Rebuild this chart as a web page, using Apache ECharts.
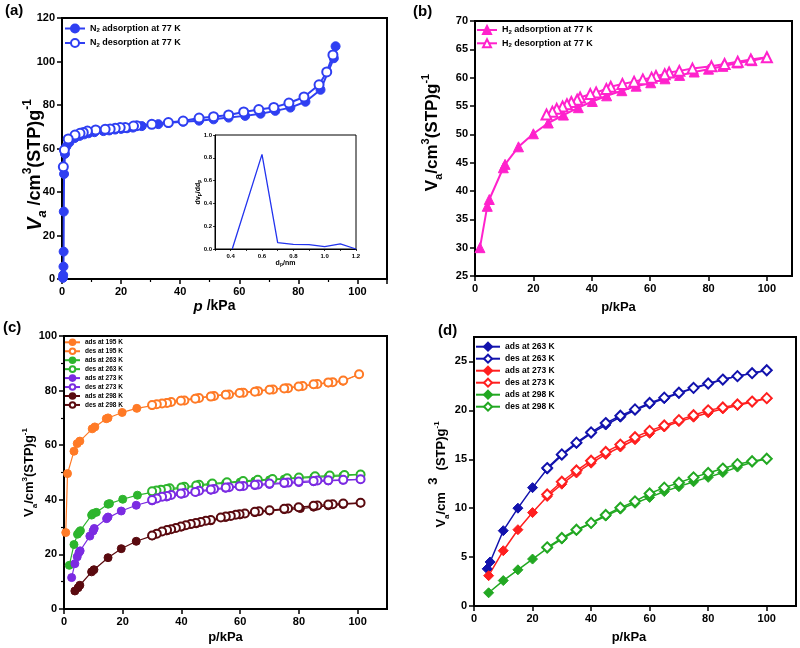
<!DOCTYPE html>
<html><head><meta charset="utf-8">
<script src="https://cdn.jsdelivr.net/npm/echarts@6/dist/echarts.min.js"></script>
<style>html,body{margin:0;padding:0;background:#fff}#c{width:800px;height:648px}</style>
</head><body><div id="c"></div>
<script>
// ---------- Panel (a): N2 at 77 K ----------
const aAdsP = [0.3,0.4,0.5,0.55,0.6,0.7,1.0,1.5,2.5,4.3,6,7.5,9,11,14,16,18,20,22,24,27,32.6,36,41,46.4,51.3,56.4,62,67.2,72.2,77.3,82.4,87.5,92,92.6];
const aAdsV = [0.5,1.8,5.7,12.6,31,48.3,57.5,61,62.8,64.8,65.8,66.5,67,67.5,68,68.3,68.7,69,69.3,69.6,70.3,71.2,71.8,72.3,72.8,73.4,74.2,75,76,77.3,78.8,81.5,87,101.5,107];
const aDesP = [91.7,89.6,87,81.9,76.8,71.7,66.6,61.5,56.4,51.3,46.4,41,36,30.4,25.3,24.2,21.4,19.7,18,16.3,14.6,11.4,8.6,7.2,6.1,4.4,2.1,0.8,0.45];
const aDesV = [103,95.2,89.3,83.7,80.9,78.9,77.9,76.8,75.4,74.6,74,72.6,71.9,71.1,70.5,70.3,69.7,69.6,69.3,69,68.8,68.5,68,67.4,67,66.2,64.4,59.3,51.6];
// inset: pore size distribution
const insetD = [0.41,0.6,0.7,0.8,0.9,1.0,1.1,1.2];
const insetV = [0,0.83,0.056,0.041,0.038,0.02,0.044,0];

// ---------- Panel (b): H2 at 77 K ----------
const bAdsP = [1.7,4.2,4.9,9.7,10.3,14.9,20,25.1,30.3,35.4,40.2,45.1,50.3,55.2,60.2,65.1,70.1,75.1,80,84.9,89.9,94.9,100];
const bAdsV = [30.0,37.3,38.5,44.1,44.7,47.8,50.1,52.0,53.4,54.7,55.8,56.8,57.7,58.5,59.1,59.8,60.4,61.0,61.5,62.0,62.6,63.0,63.6];
const bDesP = [100,94.5,90,85.5,81,74.5,70,66.5,65,62,60.5,57.5,54.5,50.5,46.5,45,41.5,39.5,36,35,33,31.5,30,28,26.5,24.5];
const bDesV = [63.6,63.2,62.8,62.4,62.0,61.6,61.2,60.9,60.6,60.3,60.0,59.7,59.3,58.9,58.4,58.0,57.4,57.1,56.5,56.1,55.7,55.3,54.9,54.5,54.0,53.5];

// ---------- Panel (c) ----------
const cAds195P = [0.6,1.2,3.4,4.5,5.4,9.6,10.5,14.4,15,19.8,24.8,30,35,40,45,50,55,60.5,65.5,70.5,75.5,80.5,85,90,95,100.5];
const cAds195V = [28,49.6,57.8,60.6,61.5,66,66.7,69.7,70,72,73.5,74.5,75.6,76.5,77.3,78,78.6,79.4,79.9,80.5,81,81.6,82.2,82.8,83.4,86];
const cDes195P = [100.5,95.1,91.5,90,86.3,85,81.3,79.9,76.3,75,71.2,70,66.1,65,61.1,59.8,56.2,55.1,51.1,50,46,44.7,41,39.8,36.5,35.1,33.4,31.6,30];
const cDes195V = [86,83.7,83.1,83,82.4,82.3,81.7,81.5,80.9,80.8,80.4,80.3,79.8,79.6,79.2,79.1,78.6,78.5,78,77.8,77.3,77,76.4,76.3,75.8,75.5,75.3,75,74.7];
const cAds263P = [1.8,3.4,4.6,5.2,5.6,9.4,9.9,11,15,15.5,20,25,30,35,40,45,50,55,60,65,70,75,80,85,90,95,101];
const cAds263V = [16.0,23.6,27.4,28.2,28.7,34.4,35,35.4,38.4,38.6,40.2,41.7,42.7,43.5,44.3,45,45.6,46.1,46.5,46.9,47.3,47.6,47.9,48.2,48.5,48.8,49.3];
const cDes263P = [101,95.5,90.5,85.5,80,76,71,66,61,55.5,50.5,46,45,41,40,36,35,33,31.5,30];
const cDes263V = [49.3,49.1,48.9,48.6,48.2,47.9,47.6,47.3,46.9,46.4,46.0,45.5,45.2,44.8,44.5,44.2,44.0,43.7,43.4,43.1];
const cAds273P = [2.6,3.7,4.5,5.1,5.5,8.8,9.9,10.3,14.5,15,19.5,24.6,30,35,40,45,50,55,60,65,70,75,80,85,90,95,101];
const cAds273V = [11.5,16.6,19.1,20.7,21.3,26.7,28.6,29.5,33.1,33.7,35.9,38,39.6,41,42,42.8,43.5,44.2,44.8,45.2,45.6,46,46.3,46.6,46.9,47.2,47.5];
const cDes273P = [101,95.1,90,86.3,85,79.9,76.3,75,70,66.1,65,61.1,59.8,56.2,55.1,51.1,50,46,44.7,41,39.8,36.5,35.1,33.4,31.6,30];
const cDes273V = [47.5,47.3,47.2,47.1,46.9,46.7,46.3,46.2,46,45.6,45.5,45.1,45,44.6,44.5,44,43.8,43.3,42.9,42.5,42.3,41.8,41.4,41.1,40.5,39.9];
const cAds298P = [3.7,4.8,5.4,9.4,10.2,15,19.5,24.6,30,35,40,45,50,55,60,65,70,75,80.5,85,90,95,101];
const cAds298V = [6.6,7.8,8.7,13.6,14.4,18.8,22.1,24.8,26.8,28.6,30,31.2,32.3,33.5,34.5,35.3,35.9,36.4,36.8,37.3,37.8,38.3,38.8];
const cDes298P = [101,95.1,91.5,90,86.3,85,79.9,76.3,75,70,66.4,65,61.6,59.8,58.5,56.8,55.1,53.4,50,48.3,46.6,44.9,43.2,41.5,39.8,38.1,36.5,35.1,33.4,31.6,30];
const cDes298V = [38.9,38.6,38.4,38.3,37.9,37.8,37.3,36.8,36.7,36.2,35.8,35.6,35,34.7,34.5,34.1,33.9,33.5,32.6,32.3,31.9,31.5,31.1,30.7,30.2,29.7,29.2,28.9,28.4,27.6,26.9];

// ---------- Panel (d) ----------
const d263AdsP = [4.5,5.5,10,15,20,25,30,35,40,45,50,55,60,65,70,75,80,85,90,95,100];
const d263AdsV = [3.8,4.5,7.7,10.0,12.1,14.0,15.4,16.6,17.65,18.5,19.3,20.0,20.65,21.2,21.75,22.25,22.7,23.15,23.5,23.8,24.1];
const dAdsP = [5,10,15,20,25,30,35,40,45,50,55,60,65,70,75,80,85,90,95,100];
const dDesP = [100,95,90,85,80,75,70,65,60,55,50,45,40,35,30,25];
const d263DesV = [24.1,23.8,23.5,23.15,22.75,22.3,21.8,21.3,20.75,20.1,19.45,18.7,17.75,16.7,15.5,14.1];
const d273AdsV = [3.1,5.65,7.8,9.55,11.2,12.45,13.6,14.6,15.5,16.25,17.0,17.65,18.3,18.85,19.3,19.75,20.15,20.5,20.85,21.2];
const d273DesV = [21.25,20.9,20.6,20.3,20.0,19.5,19.0,18.45,17.9,17.25,16.5,15.75,14.85,13.85,12.7,11.4];
const d298AdsV = [1.35,2.6,3.7,4.8,5.9,6.85,7.7,8.45,9.2,9.9,10.5,11.1,11.7,12.2,12.7,13.15,13.65,14.2,14.7,15.05];
const d298DesV = [15.05,14.8,14.5,14.05,13.6,13.15,12.6,12.1,11.5,10.7,10.05,9.3,8.5,7.8,6.95,6.0];

// ---------- helpers ----------
const FONT = "'Liberation Sans',Arial,sans-serif";
const zip = (xs, ys) => xs.map((x, i) => [x, ys[i]]);

function ser(name, xs, ys, gi, color, symbol, size, lw, bw) {
  return {
    name, type: 'line', xAxisIndex: gi, yAxisIndex: gi, data: zip(xs, ys),
    symbol, symbolSize: size, showSymbol: true,
    lineStyle: { color, width: lw },
    itemStyle: { color, borderColor: color, borderWidth: bw },
    emphasis: { disabled: true }, animation: false, z: 3
  };
}

const labelStyle = { color: '#000', fontWeight: 'bold', fontSize: 11, fontFamily: FONT, margin: 7 };
function axis(gi, o) {
  const base = {
    type: 'value', gridIndex: gi,
    axisLine: { show: true, onZero: false, lineStyle: { color: '#000', width: 2 } },
    axisTick: { show: true, inside: false, length: 5, lineStyle: { color: '#000', width: 1.5 } },
    splitLine: { show: false },
    axisLabel: Object.assign({}, labelStyle),
    nameLocation: 'middle', nameMoveOverlap: false
  };
  const r = Object.assign(base, o);
  if (o.axisLabelExtra) { r.axisLabel = Object.assign({}, labelStyle, o.axisLabelExtra); delete r.axisLabelExtra; }
  return r;
}

const xName = (gap, size, pad) => ({
  nameGap: gap,
  nameTextStyle: { color: '#000', fontWeight: 'bold', fontSize: size, fontFamily: FONT, padding: pad,
    rich: { it: { fontStyle: 'italic', fontWeight: 'bold', fontSize: size + 1, fontFamily: FONT },
            n: { fontWeight: 'bold', fontSize: size, fontFamily: FONT } } }
});

// rotated y-axis title; scripts are shifted off the base line with asymmetric token padding
function yRich(size, pad, d3) {
  const L = size + 8;
  const s = Math.round(size * 0.65);
  const d = 0.4 * size;
  return {
    color: '#000', fontWeight: 'bold', fontSize: size, fontFamily: FONT, padding: pad, lineHeight: L,
    rich: {
      it: { fontStyle: 'italic', fontWeight: 'bold', fontSize: size + 2, fontFamily: FONT, verticalAlign: 'middle' },
      n: { fontWeight: 'bold', fontSize: size, fontFamily: FONT, verticalAlign: 'middle' },
      sub: { fontWeight: 'bold', fontSize: s, fontFamily: FONT, verticalAlign: 'middle', padding: [2 * d, 0, 0, 0] },
      subit: { fontStyle: 'italic', fontWeight: 'bold', fontSize: Math.round(size * 0.7), fontFamily: FONT, verticalAlign: 'middle', padding: [2 * d, 0, 0, 0] },
      sup: { fontWeight: 'bold', fontSize: s, fontFamily: FONT, verticalAlign: 'middle', padding: [0, 0, 2 * d, 0] },
      big3: { fontWeight: 'bold', fontSize: size, fontFamily: FONT, verticalAlign: 'middle', padding: [0, 0, 2 * (d3 || d), 0] }
    }
  };
}

function legend(left, top, itemW, itemH, gap, fs, names, fmt) {
  return {
    orient: 'vertical', left, top, padding: 0, itemWidth: itemW, itemHeight: itemH, itemGap: gap,
    selectedMode: false, data: names, formatter: fmt || (n => n.trim()),
    textStyle: { color: '#000', fontWeight: 'bold', fontSize: fs, fontFamily: FONT, lineHeight: itemH,
      rich: { sub: { fontSize: Math.round(fs * 0.65), fontWeight: 'bold', fontFamily: FONT, verticalAlign: 'bottom', lineHeight: Math.round(fs * 0.65) } } }
  };
}

// colors
const A_BLUE = '#2f3ff2';
const B_MAG = '#ff22cc';
const C_OR = '#ff7a26', C_GR = '#2db52d', C_PU = '#7b2be2', C_MA = '#5a0a0f';
const D_BL = '#1212ad', D_RD = '#ff1f1f', D_GR = '#22a822';

const grids = [
  { left: 62, top: 18, width: 325, height: 261 },
  { left: 475, top: 21, width: 317, height: 255 },
  { left: 64, top: 336, width: 323, height: 273 },
  { left: 474, top: 337, width: 322, height: 269 },
  { left: 215, top: 135, width: 141, height: 114 }
].map((g, i) => Object.assign({ show: true, borderColor: '#000', borderWidth: i === 4 ? 1 : 2, backgroundColor: i === 4 ? '#fff' : 'transparent' }, g));

const minor2 = { show: true, splitNumber: 2, length: 3, lineStyle: { color: '#000', width: 1.2 } };

const xAxes = [
  axis(0, Object.assign({ min: 0, max: 110, interval: 20, minorTick: minor2, axisLabelExtra: { showMaxLabel: false },
    name: '{it|p}{n| /kPa}' }, xName(20, 14, [0, 20, 0, 0]))),
  axis(1, Object.assign({ min: 0, max: 108.6, interval: 20, axisLabelExtra: { showMaxLabel: false },
    name: 'p/kPa' }, xName(25, 13, [0, 30, 0, 0]))),
  axis(2, Object.assign({ min: 0, max: 110, interval: 20, axisLabelExtra: { showMaxLabel: false },
    name: 'p/kPa' }, xName(22, 13, [0, 0, 0, 0]))),
  axis(3, Object.assign({ min: 0, max: 110, interval: 20, axisLabelExtra: { showMaxLabel: false },
    name: 'p/kPa' }, xName(25, 13, [0, 12, 0, 0]))),
  axis(4, { min: 0.3, max: 1.2, interval: 0.1,
    axisLine: { show: true, onZero: false, lineStyle: { color: '#000', width: 1 } },
    axisTick: { show: true, length: 2, lineStyle: { color: '#000', width: 0.8 } },
    axisLabelExtra: { fontSize: 6, margin: 4, formatter: v => { const k = Math.round(v * 10); return k % 2 === 0 ? (k / 10).toFixed(1) : ''; } },
    name: 'd{sub|p}/nm', nameGap: 11,
    nameTextStyle: { color: '#000', fontWeight: 'bold', fontSize: 7, fontFamily: FONT,
      rich: { sub: { fontSize: 5, fontWeight: 'bold', verticalAlign: 'bottom', lineHeight: 5 } } } })
];

const yAxes = [
  axis(0, { min: 0, max: 120, interval: 20,
    name: '{it|V}{subit|a}{n| /cm}{sup|3}{n|(STP)g}{sup|-1}', nameGap: 14,
    nameTextStyle: yRich(18, [0, 33, 0, 0]) }),
  axis(1, { min: 25, max: 70, interval: 5,
    name: '{n|V}{sub|a}{n|/cm}{sup|3}{n|(STP)g}{sup|-1}', nameGap: 30,
    nameTextStyle: yRich(17, [0, 0, 0, 32]) }),
  axis(2, { min: 0, max: 100, interval: 20, minorTick: minor2,
    name: '{n|V}{sub|a}{n|/cm}{sup|3}{n|(STP)g}{sup|-1}', nameGap: 24,
    nameTextStyle: yRich(13, [0, 0, 0, 0]) }),
  axis(3, { min: 0, max: 27.5, interval: 5, axisLabelExtra: { showMaxLabel: false },
    name: '{n|V}{sub|a}{n|/cm  }{big3|3}{n|  (STP)g}{sup|-1}', nameGap: 22,
    nameTextStyle: yRich(13, [0, 6, 0, 0], 8.5) }),
  axis(4, { min: 0, max: 1, interval: 0.2,
    axisLine: { show: true, onZero: false, lineStyle: { color: '#000', width: 1 } },
    axisTick: { show: true, length: 2, lineStyle: { color: '#000', width: 0.8 } },
    axisLabelExtra: { fontSize: 6, margin: 3, formatter: v => v.toFixed(1) },
    name: 'dv{sub|p}/dd{sub|p}', nameGap: 13,
    nameTextStyle: { color: '#000', fontWeight: 'bold', fontSize: 7, fontFamily: FONT,
      rich: { sub: { fontSize: 5, fontWeight: 'bold', verticalAlign: 'bottom', lineHeight: 5 } } } })
];

const series = [
  ser('N2 adsorption at 77 K', aAdsP, aAdsV, 0, A_BLUE, 'circle', 9, 2, 1),
  ser('N2 desorption at 77 K', aDesP, aDesV, 0, A_BLUE, 'emptyCircle', 9, 2, 1.8),
  Object.assign(ser('inset', insetD, insetV, 4, '#2233ee', 'none', 0, 1.3, 0), { z: 5 }),

  ser('H2 adsorption at 77 K', bAdsP, bAdsV, 1, B_MAG, 'triangle', 10, 2, 1),
  ser('H2 desorption at 77 K', bDesP, bDesV, 1, B_MAG, 'emptyTriangle', 10, 2, 1.6),

  ser('ads at 195 K', cAds195P, cAds195V, 2, C_OR, 'circle', 8, 1.2, 1),
  ser('des at 195 K', cDes195P, cDes195V, 2, C_OR, 'emptyCircle', 8, 1.2, 1.5),
  ser('ads at 263 K', cAds263P, cAds263V, 2, C_GR, 'circle', 8, 1.2, 1),
  ser('des at 263 K', cDes263P, cDes263V, 2, C_GR, 'emptyCircle', 8, 1.2, 1.5),
  ser('ads at 273 K', cAds273P, cAds273V, 2, C_PU, 'circle', 8, 1.2, 1),
  ser('des at 273 K', cDes273P, cDes273V, 2, C_PU, 'emptyCircle', 8, 1.2, 1.5),
  ser('ads at 298 K', cAds298P, cAds298V, 2, C_MA, 'circle', 8, 1.2, 1),
  ser('des at 298 K', cDes298P, cDes298V, 2, C_MA, 'emptyCircle', 8, 1.2, 1.5),

  ser('ads at 263 K ', d263AdsP, d263AdsV, 3, D_BL, 'diamond', 10, 1.5, 1),
  ser('des at 263 K ', dDesP, d263DesV, 3, D_BL, 'emptyDiamond', 10, 1.5, 1.5),
  ser('ads at 273 K ', dAdsP, d273AdsV, 3, D_RD, 'diamond', 10, 1.5, 1),
  ser('des at 273 K ', dDesP, d273DesV, 3, D_RD, 'emptyDiamond', 10, 1.5, 1.5),
  ser('ads at 298 K ', dAdsP, d298AdsV, 3, D_GR, 'diamond', 10, 1.5, 1),
  ser('des at 298 K ', dDesP, d298DesV, 3, D_GR, 'emptyDiamond', 10, 1.5, 1.5)
];

const subFmt = n => n.replace(/^([NH])2/, '$1{sub|2}');
const option = {
  backgroundColor: '#fff',
  animation: false,
  title: [
    { text: '(a)', left: 5, top: 3 },
    { text: '(b)', left: 413, top: 4 },
    { text: '(c)', left: 3, top: 320 },
    { text: '(d)', left: 438, top: 323 }
  ].map(t => Object.assign(t, { padding: 0, textStyle: { fontSize: 15, fontWeight: 'bold', fontFamily: FONT, color: '#000' } })),
  grid: grids,
  xAxis: xAxes,
  yAxis: yAxes,
  legend: [
    legend(64, 23.5, 20, 10, 4.5, 9, ['N2 adsorption at 77 K', 'N2 desorption at 77 K'], subFmt),
    legend(476, 25, 20, 10, 3.3, 9, ['H2 adsorption at 77 K', 'H2 desorption at 77 K'], subFmt),
    legend(64, 338.5, 15, 7, 1.35, 6.5, ['ads at 195 K', 'des at 195 K', 'ads at 263 K', 'des at 263 K', 'ads at 273 K', 'des at 273 K', 'ads at 298 K', 'des at 298 K']),
    legend(475, 341.7, 24, 10, 2, 8.5, ['ads at 263 K ', 'des at 263 K ', 'ads at 273 K ', 'des at 273 K ', 'ads at 298 K ', 'des at 298 K '])
  ],
  series
};

const chart = echarts.init(document.getElementById('c'), null, { renderer: 'canvas' });
chart.setOption(option);
</script></body></html>
